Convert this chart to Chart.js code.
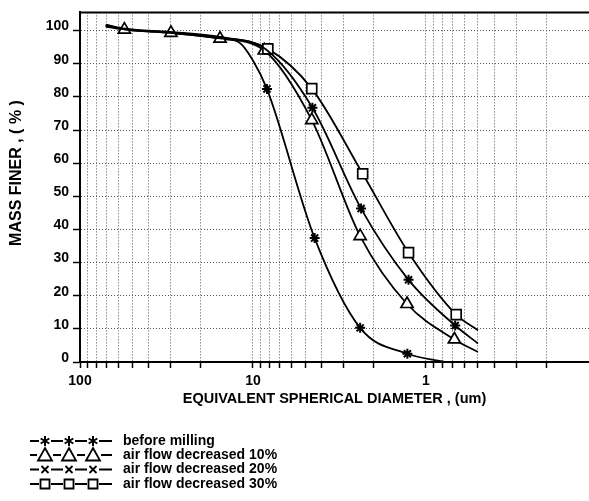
<!DOCTYPE html>
<html><head><meta charset="utf-8">
<script src="https://cdn.jsdelivr.net/npm/chart.js@4.4.1/dist/chart.umd.min.js"></script>
<style>html,body{margin:0;padding:0;background:#fff;}#wrap{width:589px;height:501px;}</style>
</head><body><div id="wrap"><canvas id="c" width="589" height="501"></canvas></div>
<script>
// ---- data ----
const seriesNames = ['before milling', 'air flow decreased 10%', 'air flow decreased 20%', 'air flow decreased 30%'];

const diamBefore = [71, 55, 30, 15.5, 12, 10, 8.3, 4.4, 2.4, 1.28, 0.78];
const massBefore = [101.6, 100.4, 99.3, 97.7, 96.4, 91, 82.4, 37.4, 10.3, 2.5, 0];
const markBefore = [0, 0, 0, 0, 0, 0, 1, 1, 1, 1, 0];

const diam10 = [71, 55.4, 29.8, 15.5, 8.6, 4.57, 2.4, 1.285, 0.684, 0.5];
const mass10 = [101.2, 100.3, 99.3, 97.6, 94.0, 73.0, 38.0, 17.5, 6.8, 3.0];
const mark10 = [0, 1, 1, 1, 1, 1, 1, 1, 1, 0];

const diam20 = [71, 55, 30, 15.5, 8.4, 4.53, 2.37, 1.26, 0.677, 0.5];
const mass20 = [101.4, 100.4, 99.4, 97.9, 94.3, 76.7, 46.3, 24.8, 11.0, 5.6];
const mark20 = [0, 0, 0, 0, 0, 1, 1, 1, 1, 0];

const diam30 = [71, 55, 30, 15.5, 8.2, 4.57, 2.32, 1.26, 0.668, 0.5];
const mass30 = [101.8, 100.6, 99.6, 98.1, 94.5, 82.5, 56.8, 33.0, 14.3, 9.6];
const mark30 = [0, 0, 0, 0, 1, 1, 1, 1, 1, 0];

const xGridValues = [100, 90, 80, 70, 60, 50, 40, 30, 20, 10, 9, 8, 7, 6, 5, 4, 3, 2, 1, 0.9, 0.8, 0.7, 0.6, 0.5, 0.4, 0.3, 0.2];
const xTickLabels = [100, 10, 1];
const yTickValues = [0, 10, 20, 30, 40, 50, 60, 70, 80, 90, 100];

const xTitle = 'EQUIVALENT SPHERICAL DIAMETER , (um)';
const yTitle = 'MASS FINER , ( % )';

// ---- build ----
const FONT = "'Liberation Sans', Arial, sans-serif";
function pts(d, m) { return d.map((v, i) => ({ x: v, y: m[i] })); }

function mkSet(label, d, m, mk, style, r) {
  return {
    label,
    data: pts(d, m),
    borderColor: '#000',
    borderWidth: 1.8,
    fill: false,
    cubicInterpolationMode: 'monotone',
    pointStyle: style,
    pointRadius: mk.map(v => v ? r : 0),
    pointHoverRadius: mk.map(v => v ? r : 0),
    pointBorderColor: '#000',
    pointBackgroundColor: '#fff',
    pointBorderWidth: style === 'star' ? 2 : 1.7
  };
}

const markerStyles = ['star', 'triangle', 'star', 'rect'];
const markerRadius = [5, 7, 5, 7];

const datasets = [
  mkSet(seriesNames[0], diamBefore, massBefore, markBefore, markerStyles[0], markerRadius[0]),
  mkSet(seriesNames[2], diam20, mass20, mark20, markerStyles[2], markerRadius[2]),
  mkSet(seriesNames[3], diam30, mass30, mark30, markerStyles[3], markerRadius[3]),
  mkSet(seriesNames[1], diam10, mass10, mark10, markerStyles[1], markerRadius[1])
];

function drawMarker(ctx, kind, x, y) {
  ctx.save();
  ctx.strokeStyle = '#000';
  ctx.fillStyle = '#fff';
  ctx.beginPath();
  if (kind === 'star') {
    ctx.lineWidth = 2;
    const r = 5;
    for (let k = 0; k < 3; k++) {
      const a = Math.PI / 2 + k * Math.PI / 3;
      ctx.moveTo(x + r * Math.cos(a), y + r * Math.sin(a));
      ctx.lineTo(x - r * Math.cos(a), y - r * Math.sin(a));
    }
    ctx.stroke();
  } else if (kind === 'triangle') {
    ctx.lineWidth = 1.8;
    ctx.moveTo(x, y - 7);
    ctx.lineTo(x + 7, y + 5.5);
    ctx.lineTo(x - 7, y + 5.5);
    ctx.closePath();
    ctx.fill(); ctx.stroke();
  } else if (kind === 'cross') {
    ctx.lineWidth = 1.8;
    const r = 3.5;
    ctx.moveTo(x - r, y - r); ctx.lineTo(x + r, y + r);
    ctx.moveTo(x + r, y - r); ctx.lineTo(x - r, y + r);
    ctx.stroke();
  } else if (kind === 'rect') {
    ctx.lineWidth = 1.8;
    ctx.rect(x - 4.5, y - 4.5, 9, 9);
    ctx.fill(); ctx.stroke();
  }
  ctx.restore();
}

const legendKinds = ['star', 'triangle', 'cross', 'rect'];
const legendRowsY = [441, 455, 469.5, 484];

const framePlugin = {
  id: 'frame',
  afterDraw(chart) {
    const { ctx, chartArea: a } = chart;
    const xs = chart.scales.x;
    ctx.save();
    ctx.strokeStyle = '#000';
    ctx.lineWidth = 2;
    ctx.beginPath();
    ctx.moveTo(a.left - 1, a.top);
    ctx.lineTo(a.right, a.top);
    ctx.stroke();
    // x tick labels
    ctx.fillStyle = '#000';
    ctx.font = 'bold 14px ' + FONT;
    ctx.textAlign = 'center';
    ctx.textBaseline = 'middle';
    for (const v of xTickLabels) {
      ctx.fillText(String(v), xs.getPixelForValue(v), 381);
    }
    // y axis title
    ctx.save();
    ctx.translate(17, 173);
    ctx.rotate(-Math.PI / 2);
    ctx.font = 'bold 16px ' + FONT;
    ctx.textAlign = 'center';
    ctx.textBaseline = 'middle';
    ctx.fillText(yTitle, 0, 0);
    ctx.restore();
    // legend
    const mx = [45, 69, 93];
    for (let i = 0; i < 4; i++) {
      const y = legendRowsY[i];
      ctx.lineWidth = 2;
      ctx.strokeStyle = '#000';
      const gap = legendKinds[i] === 'triangle' ? 8 : 6;
      let x0 = 30;
      ctx.beginPath();
      for (const m of mx) {
        ctx.moveTo(x0, y); ctx.lineTo(m - gap, y);
        x0 = m + gap;
      }
      ctx.moveTo(x0, y); ctx.lineTo(112, y);
      ctx.stroke();
      for (const m of mx) drawMarker(ctx, legendKinds[i], m, y);
      ctx.fillStyle = '#000';
      ctx.font = 'bold 14px ' + FONT;
      ctx.textBaseline = 'middle';
      ctx.textAlign = 'left';
      ctx.fillText(seriesNames[i], 123, y);
    }
    ctx.restore();
  }
};

Chart.defaults.font.family = FONT;
Chart.defaults.color = '#000';

new Chart(document.getElementById('c'), {
  type: 'line',
  data: { datasets },
  plugins: [framePlugin],
  options: {
    responsive: false,
    animation: false,
    devicePixelRatio: 1,
    layout: { padding: { top: 10, right: 0, left: 0, bottom: 91 } },
    plugins: { legend: { display: false }, tooltip: { enabled: false } },
    scales: {
      x: {
        type: 'logarithmic',
        reverse: true,
        min: 0.114,
        max: 100,
        afterFit(s) { s.height = 48; },
        afterBuildTicks(s) { s.ticks = xGridValues.map(v => ({ value: v })); },
        ticks: {
          display: false,
          autoSkip: false,
          maxRotation: 0
        },
        grid: {
          color: '#555',
          lineWidth: 1,
          drawTicks: true,
          tickLength: 6,
          tickColor: '#000',
          tickWidth: 1.5
        },
        border: { display: true, color: '#000', width: 2, dash: [1, 2] },
        title: {
          display: true,
          text: xTitle,
          font: { size: 14.5, weight: 'bold' },
          color: '#000',
          padding: { top: 0, bottom: 2 }
        }
      },
      y: {
        type: 'linear',
        min: 0,
        max: 105.5,
        afterFit(s) { s.width = 80; },
        afterBuildTicks(s) { s.ticks = yTickValues.map(v => ({ value: v })); },
        ticks: {
          padding: 4,
          labelOffset: -4,
          font: { size: 14, weight: 'bold' },
          color: '#000'
        },
        grid: {
          color: '#555',
          lineWidth: 1,
          drawTicks: true,
          tickLength: 7,
          tickColor: '#000',
          tickWidth: 1.5
        },
        border: { display: true, color: '#000', width: 2, dash: [1, 2] },
        title: { display: false }
      }
    }
  }
});
</script>
</body></html>
